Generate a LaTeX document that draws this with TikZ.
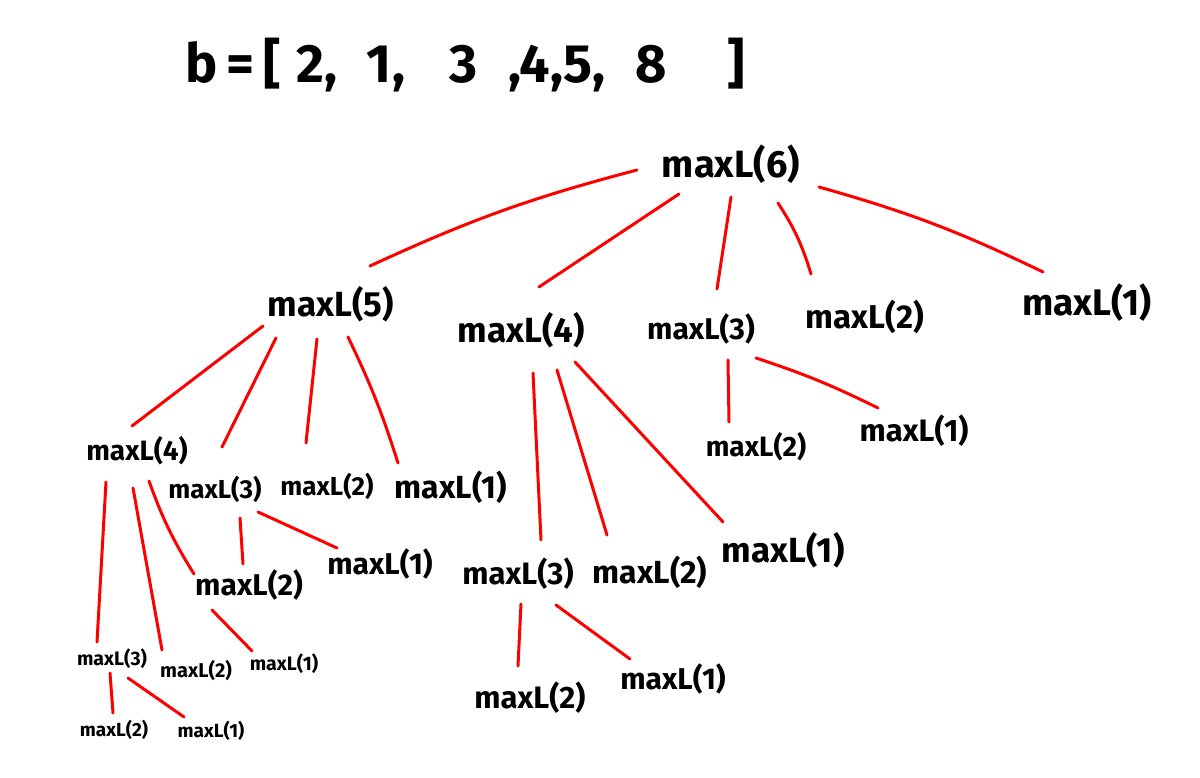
\documentclass[tikz,border=0pt]{standalone}
\usepackage{fontspec}
\setmainfont{Fira Sans}
\usetikzlibrary{calc}
\begin{document}
\begin{tikzpicture}[x=1pt,y=-1pt,
  lbl/.style={inner sep=0pt, text=black, font=\bfseries\fontsize{#1}{#1}\selectfont},
  ttl/.style={inner sep=0pt, text=black, font=\bfseries\fontsize{54}{54}\selectfont},
  edge/.style={draw=red, line width=3pt, line cap=round}]
\useasboundingbox[fill=white] (0,0) rectangle (1200,778);

\node[ttl] (title) at (465,65) {b\,=\,[\;2,\;\;1,\;\;\;3\;\;,4,5,\;\;8\;\;\;\;]};

% level 0
\node[lbl=38] (n6) at (731,164) {maxL(6)};
% level 1
\node[lbl=35] (n5) at (331,304) {maxL(5)};
\node[lbl=35] (n4b) at (521,330) {maxL(4)};
\node[lbl=30] (n3a) at (701,329) {maxL(3)};
\node[lbl=33] (n2a) at (865,317) {maxL(2)};
\node[lbl=37] (n1a) at (1087,303) {maxL(1)};
% children of maxL(5)
\node[lbl=28] (n4a) at (137,451) {maxL(4)};
\node[lbl=26] (n3b) at (215,489) {maxL(3)};
\node[lbl=26] (n2b) at (327,486) {maxL(2)};
\node[lbl=32] (n1b) at (451,487) {maxL(1)};
% deeper left
\node[lbl=30] (n2d) at (249,585) {maxL(2)};
\node[lbl=30] (n1c) at (380,564) {maxL(1)};
\node[lbl=19.5] (n3c) at (112,659) {maxL(3)};
\node[lbl=20] (n2c) at (196,670) {maxL(2)};
\node[lbl=19.5] (n1d) at (284,664) {maxL(1)};
\node[lbl=19] (n2e) at (114,730) {maxL(2)};
\node[lbl=19] (n1e) at (211,731) {maxL(1)};
% children of middle maxL(4)
\node[lbl=31] (n3d) at (518,574) {maxL(3)};
\node[lbl=32] (n2f) at (650,572) {maxL(2)};
\node[lbl=35] (n1f) at (783,550) {maxL(1)};
\node[lbl=31] (n2g) at (530,698) {maxL(2)};
\node[lbl=30] (n1g) at (673,679) {maxL(1)};
% children of maxL(3)
\node[lbl=28] (n2h) at (756,447) {maxL(2)};
\node[lbl=31] (n1h) at (914,431) {maxL(1)};

% edges from maxL(6)
\draw[edge] ($(n6)+(-94,6)$) to[bend right=5] ($(n5)+(39,-38)$);
\draw[edge] ($(n6)+(-52,30)$) -- ($(n4b)+(18,-43)$);
\draw[edge] ($(n6)+(0,33)$) -- ($(n3a)+(16,-40)$);
\draw[edge] ($(n6)+(47,39)$) to[bend left=8] ($(n2a)+(-54,-43)$);
\draw[edge] ($(n6)+(88,23)$) to[bend left=5] ($(n1a)+(-44,-31)$);
% edges from maxL(5)
\draw[edge] ($(n5)+(-68,22)$) -- ($(n4a)+(-5,-25)$);
\draw[edge] ($(n5)+(-55,34)$) -- ($(n3b)+(7,-42)$);
\draw[edge] ($(n5)+(-14,35)$) -- ($(n2b)+(-21,-43)$);
\draw[edge] ($(n5)+(17,33)$) to[bend left=4] ($(n1b)+(-53,-24)$);
% edges from left maxL(4)
\draw[edge] ($(n4a)+(-31,31)$) -- ($(n3c)+(-15,-17)$);
\draw[edge] ($(n4a)+(-4,37)$) -- ($(n2c)+(-34,-20)$);
\draw[edge] ($(n4a)+(12,30)$) to[bend right=6] ($(n2d)+(-55,-11)$);
% edges from maxL(3) (level 2)
\draw[edge] ($(n3b)+(25,29)$) -- ($(n2d)+(-6,-21)$);
\draw[edge] ($(n3b)+(43,23)$) -- ($(n1c)+(-43,-16)$);
% edge from maxL(2)
\draw[edge] ($(n2d)+(-37,25)$) -- ($(n1d)+(-32,-13)$);
% edges from small maxL(3)
\draw[edge] ($(n3c)+(-2,14)$) -- ($(n2e)+(-1,-17)$);
\draw[edge] ($(n3c)+(16,19)$) -- ($(n1e)+(-27,-14)$);
% edges from middle maxL(4)
\draw[edge] ($(n4b)+(12,43)$) -- ($(n3d)+(23,-34)$);
\draw[edge] ($(n4b)+(36,40)$) -- ($(n2f)+(-43,-37)$);
\draw[edge] ($(n4b)+(54,32)$) -- ($(n1f)+(-60,-28)$);
% edges from lower middle maxL(3)
\draw[edge] ($(n3d)+(3,30)$) -- ($(n2g)+(-12,-32)$);
\draw[edge] ($(n3d)+(38,31)$) -- ($(n1g)+(-43,-20)$);
% edges from top maxL(3)
\draw[edge] ($(n3a)+(27,31)$) -- ($(n2h)+(-27,-25)$);
\draw[edge] ($(n3a)+(55,29)$) to[bend left=4] ($(n1h)+(-36,-23)$);
\end{tikzpicture}
\end{document}
